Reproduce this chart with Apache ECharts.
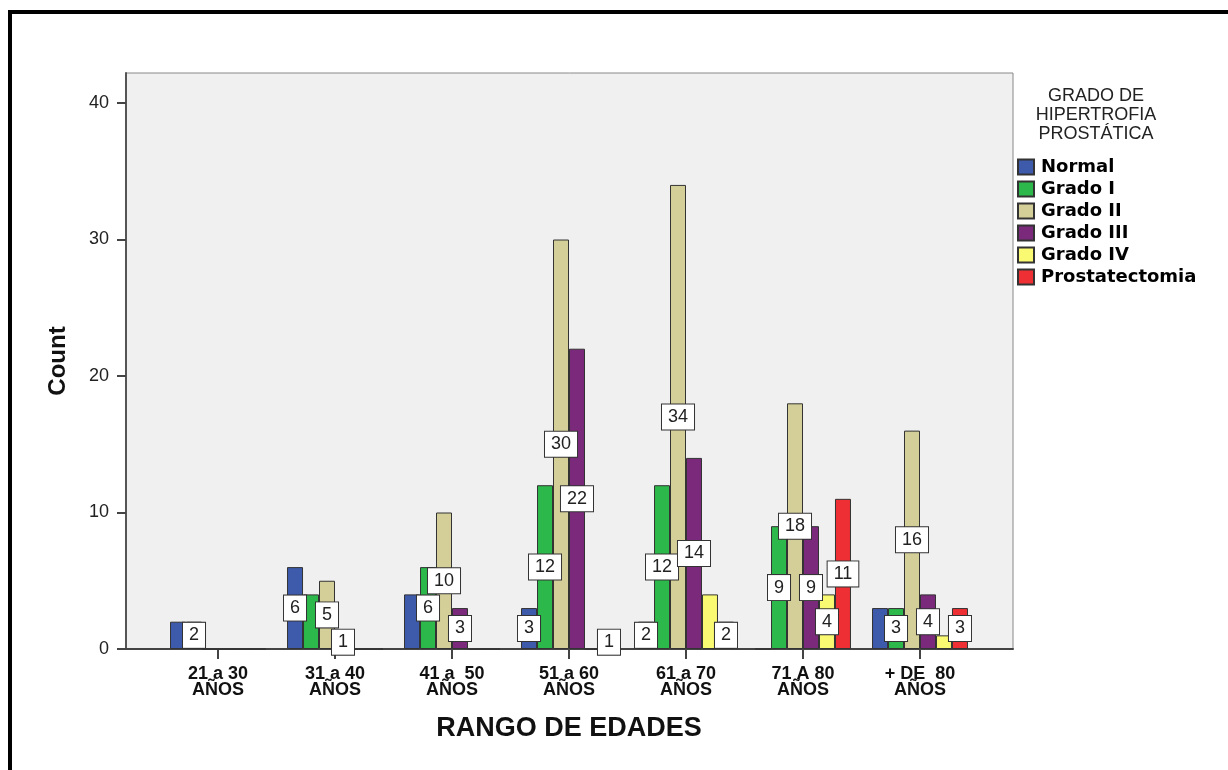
<!DOCTYPE html>
<html><head><meta charset="utf-8">
<script src="https://cdn.jsdelivr.net/npm/echarts@6/dist/echarts.min.js"></script>
<style>html,body{margin:0;padding:0;background:#fff}#c{width:1228px;height:770px}</style>
</head><body><div id="c"></div>
<script>
const categories = ['21 a 30\nAÑOS', '31 a 40\nAÑOS', '41 a  50\nAÑOS', '51 a 60\nAÑOS', '61 a 70\nAÑOS', '71 A 80\nAÑOS', '+ DE  80\nAÑOS'];
const seriesNames = ['Normal', 'Grado I', 'Grado II', 'Grado III', 'Grado IV', 'Prostatectomia'];
const normal = [2, 6, 4, 3, 2, 0, 3];
const gradoI = [2, 4, 6, 12, 12, 9, 3];
const gradoII = [0, 5, 10, 30, 34, 18, 16];
const gradoIII = [0, 1, 3, 22, 14, 9, 4];
const gradoIV = [0, 0, 0, 0, 4, 4, 1];
const prostatectomia = [0, 0, 0, 1, 2, 11, 3];
const yTicks = [0, 10, 20, 30, 40];
// value labels not visible in the reference: [seriesIndex, categoryIndex]
const hiddenLabels = [[0, 0], [0, 2], [0, 6], [1, 1], [4, 4], [4, 6]];
const colors = ['#3d5aab', '#2db84b', '#d4cf98', '#7b2a7b', '#fafa72', '#ee3035'];

const allValues = [normal, gradoI, gradoII, gradoIII, gradoIV, prostatectomia];
const YMAX = 42.2;

const chart = echarts.init(document.getElementById('c'), null, {renderer: 'canvas'});

const series = allValues.map((vals, si) => ({
  name: seriesNames[si],
  type: 'bar',
  xAxisIndex: 1,
  yAxisIndex: 1,
  barGap: '0%',
  barCategoryGap: '18%',
  itemStyle: {color: colors[si], borderColor: '#333', borderWidth: 1},
  emphasis: {disabled: true},
  label: {
    show: true,
    position: 'inside',
    fontFamily: 'Liberation Sans, Arial',
    fontSize: 18,
    color: '#222',
    textBorderWidth: 0,
    backgroundColor: '#fff',
    borderColor: '#333',
    borderWidth: 1,
    padding: [4, 6, 3, 6]
  },
  data: vals.map((v, ci) => ({
    value: v,
    label: {show: v > 0 && !hiddenLabels.some(h => h[0] === si && h[1] === ci)}
  }))
}));

chart.setOption({
  animation: false,
  backgroundColor: '#fff',
  textStyle: {fontFamily: 'Liberation Sans, Arial'},
  grid: [
    {left: 126, right: 215, top: 73, bottom: 121, show: true, backgroundColor: '#f0f0f0', borderColor: '#888', borderWidth: 1},
    {left: 159.5, right: 249.5, top: 73, bottom: 121}
  ],
  xAxis: [
    {gridIndex: 0, type: 'value', min: 0, max: 1,
     axisLine: {show: true, lineStyle: {color: '#444', width: 2}},
     axisTick: {show: false}, axisLabel: {show: false}, splitLine: {show: false}},
    {gridIndex: 1, type: 'category', data: categories,
     axisLine: {show: false},
     axisTick: {show: true, alignWithLabel: true, length: 10, lineStyle: {color: '#444', width: 2}},
     axisLabel: {interval: 0, margin: 17, fontWeight: 'bold', fontSize: 18, lineHeight: 16, color: '#111'},
     splitLine: {show: false},
     name: 'RANGO DE EDADES', nameLocation: 'middle', nameGap: 66,
     nameTextStyle: {fontWeight: 'bold', fontSize: 27, color: '#111'}}
  ],
  yAxis: [
    {gridIndex: 0, type: 'value', min: 0, max: YMAX, interval: 10,
     axisLine: {show: true, lineStyle: {color: '#555', width: 2}},
     axisTick: {show: true, length: 9, customValues: yTicks, lineStyle: {color: '#444', width: 2}},
     axisLabel: {customValues: yTicks, fontSize: 18, color: '#222', margin: 17},
     splitLine: {show: false},
     name: 'Count', nameLocation: 'middle', nameGap: 56, nameRotate: 90,
     nameTextStyle: {fontWeight: 'bold', fontSize: 24, color: '#111'}},
    {gridIndex: 1, type: 'value', min: 0, max: YMAX, show: false}
  ],
  legend: {
    data: seriesNames,
    orient: 'vertical',
    left: 1017,
    top: 158,
    padding: 0,
    itemWidth: 16,
    itemHeight: 15,
    itemGap: 4,
    icon: 'rect',
    selectedMode: false,
    textStyle: {fontFamily: 'DejaVu Sans', fontWeight: 'bold', fontSize: 18, lineHeight: 15, color: '#000', padding: [0, 0, 0, 2]}
  },
  graphic: [
    {type: 'text', x: 1096, y: 87, style: {
      text: 'GRADO DE\nHIPERTROFIA\nPROSTÁTICA', align: 'center',
      fontFamily: 'Liberation Sans, Arial', fontSize: 18, lineHeight: 19, fill: '#222'}},
    {type: 'rect', shape: {x: 8, y: 10, width: 1220, height: 4}, style: {fill: '#000'}},
    {type: 'rect', shape: {x: 8, y: 10, width: 4, height: 760}, style: {fill: '#000'}}
  ],
  series: series
});
</script>
</body></html>
